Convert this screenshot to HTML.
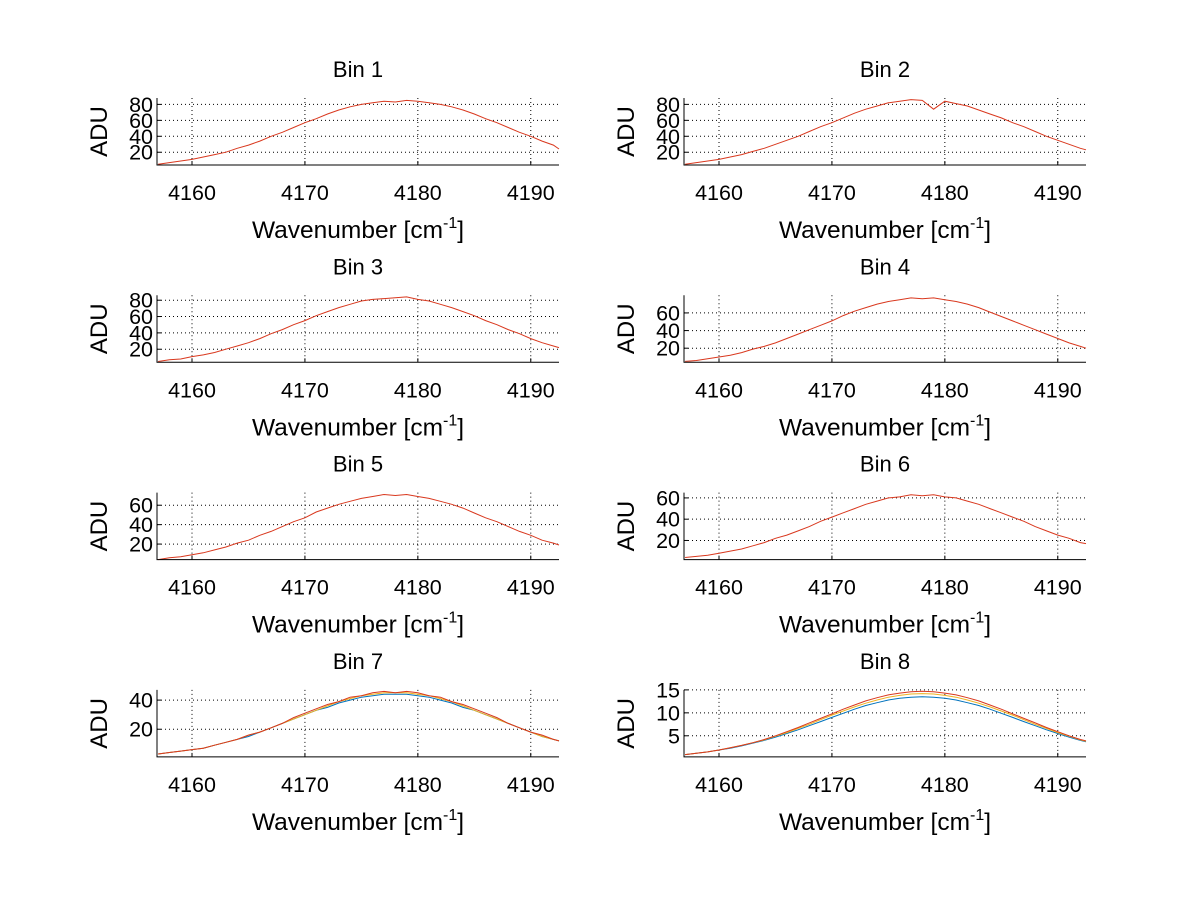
<!DOCTYPE html>
<html><head><meta charset="utf-8"><style>
html,body{margin:0;padding:0;background:#fff;}
svg text{font-family:"Liberation Sans",Arial,sans-serif;fill:#000;}
</style></head><body>
<svg id="fig" width="1200" height="901" viewBox="0 0 1200 901" xmlns="http://www.w3.org/2000/svg">
<rect width="1200" height="901" fill="#fff"/>
</svg>
<script>
const xs = [4157,4158,4159,4160,4161,4162,4163,4164,4165,4166,4167,4168,4169,4170,4171,4172,4173,4174,4175,4176,4177,4178,4179,4180,4181,4182,4183,4184,4185,4186,4187,4188,4189,4190,4191,4192,4192.5];
const xTicks = [4160,4170,4180,4190];
const binTitles = ["Bin 1","Bin 2","Bin 3","Bin 4","Bin 5","Bin 6","Bin 7","Bin 8"];
const yLims = [[4,88],[4,88],[4,86],[4,80],[4,73],[2,65],[1,47],[0.4,15]];
const yTicks = [[20,40,60,80],[20,40,60,80],[20,40,60,80],[20,40,60],[20,40,60],[20,40,60],[20,40],[5,10,15]];
const bin1 = [5,7,9,11,14,17,20,25,29,34,40,45,51,57,62,68,73,77,80,82,84,83,85,84,82,80,77,73,68,62,57,51,45,40,34,29,24];
const bin2 = [5,7,9,11,14,17,21,25,30,35,40,46,52,57,63,69,74,78,82,84,86,85,74,84,81,78,73,68,63,57,52,46,40,35,30,25,23];
const bin3 = [5,7,8,11,13,16,20,24,28,33,39,44,50,55,61,66,71,75,79,81,82,83,84,81,79,75,71,66,61,55,50,44,39,33,28,24,22];
const bin4 = [5,6,8,10,12,15,19,22,26,31,36,41,46,51,57,62,66,70,73,75,77,76,77,75,73,70,66,61,56,51,46,41,36,31,26,22,20];
const bin5 = [4,6,7,9,11,14,17,21,24,29,33,38,43,47,53,57,61,64,67,69,71,70,71,69,67,64,61,57,52,47,43,38,33,29,24,21,19];
const bin6 = [4,5,6,8,10,12,15,18,22,25,29,33,38,42,46,50,54,57,60,61,63,62,63,61,60,57,54,50,46,42,38,33,29,25,22,18,17];
const bin7Blue = [3,4,5,6,7,9,11,13,15,18,21,24,27,30,33,35,38,40,42,43,44,44,44,43,42,40,38,35,33,30,27,24,21,18,15,13,12];
const bin7Yellow = [3,4,5,6,7,9,11,13,16,18,21,24,27,30,33,36,39,41,43,44,45,45,45,44,43,41,39,36,33,30,27,24,21,18,15,13,12];
const bin7Red = [3,4,5,6,7,9,11,13,16,18,21,24,28,31,34,37,39,42,43,45,46,45,46,45,43,42,39,37,34,31,28,24,21,18,16,13,12];
const bin8Blue = [0.9,1.2,1.5,1.9,2.3,2.8,3.4,4.0,4.7,5.5,6.3,7.2,8.1,9.0,9.9,10.8,11.6,12.2,12.8,13.2,13.4,13.5,13.4,13.2,12.8,12.2,11.6,10.8,9.9,9.0,8.1,7.2,6.3,5.5,4.7,4.0,3.7];
const bin8Yellow = [0.9,1.2,1.5,1.9,2.4,2.9,3.5,4.1,4.9,5.7,6.6,7.5,8.5,9.5,10.4,11.3,12.1,12.8,13.4,13.8,14.1,14.2,14.1,13.8,13.4,12.8,12.1,11.3,10.4,9.5,8.5,7.5,6.6,5.7,4.9,4.1,3.8];
const bin8Red = [0.9,1.2,1.5,1.9,2.4,2.9,3.5,4.2,5.0,5.9,6.8,7.8,8.8,9.8,10.8,11.7,12.6,13.3,13.9,14.3,14.6,14.7,14.6,14.3,13.9,13.3,12.6,11.7,10.8,9.8,8.8,7.8,6.8,5.9,5.0,4.2,3.9];

const BLUE="#0072BD", YELLOW="#EDB120", RED="#D9381E";
const binSeries = [
  [[bin1,RED]],[[bin2,RED]],[[bin3,RED]],[[bin4,RED]],[[bin5,RED]],[[bin6,RED]],
  [[bin7Blue,BLUE],[bin7Yellow,YELLOW],[bin7Red,RED]],
  [[bin8Blue,BLUE],[bin8Yellow,YELLOW],[bin8Red,RED]]
];
const NS="http://www.w3.org/2000/svg";
const svg=document.getElementById('fig');
function mk(tag,attrs,parent){const e=document.createElementNS(NS,tag);for(const k in attrs)e.setAttribute(k,attrs[k]);parent.appendChild(e);return e;}
const XMIN=4156.9, XMAX=4192.5;
for(let i=0;i<8;i++){
  const col=i%2,row=Math.floor(i/2);
  const L=157+col*527, R=559+col*527, T=98+row*197.3, B=165+row*197.3;
  const g=mk('g',{},svg);
  
  
  const [y0,y1]=yLims[i];
  const sx=v=>L+(v-XMIN)/(XMAX-XMIN)*(R-L);
  const sy=v=>B-(v-y0)/(y1-y0)*(B-T);
  xTicks.forEach(t=>{
    const ln=mk('line',{x1:sx(t),x2:sx(t),y1:T,y2:B,stroke:'#000','stroke-width':1,'stroke-dasharray':'1 3'},g);
    
    
    mk('line',{x1:sx(t),x2:sx(t),y1:B,y2:B-4,stroke:'#000'},g);
    const tx=mk('text',{x:sx(t),y:B+35,'font-size':21.5,'text-anchor':'middle'},g);
    tx.textContent=t;
    
    
  });
  yTicks[i].forEach(t=>{
    const ln=mk('line',{x1:L,x2:R,y1:sy(t),y2:sy(t),stroke:'#000','stroke-width':1,'stroke-dasharray':'1 3'},g);
    
    
    mk('line',{x1:L,x2:L+4,y1:sy(t),y2:sy(t),stroke:'#000'},g);
    const tx=mk('text',{x:L-4,y:sy(t)+7.5,'font-size':21.5,'text-anchor':'end'},g);
    tx.textContent=t;
    
    
  });
  binSeries[i].forEach(([arr,c])=>{
    const p=mk('polyline',{points:arr.map((v,k)=>sx(xs[k]).toFixed(1)+','+sy(v).toFixed(1)).join(' '),fill:'none',stroke:c,'stroke-width':1},g);
    
    
  });
  const ax=mk('path',{d:`M${L},${T}V${B}H${R}`,fill:'none',stroke:'#000','stroke-width':1},g);
  
  
  const ti=mk('text',{x:(L+R)/2,y:T-21,'font-size':22,'text-anchor':'middle'},g);
  ti.textContent=binTitles[i];
  
  
  const yl=mk('text',{x:0,y:0,'font-size':24,'text-anchor':'middle',transform:`translate(${L-50},${(T+B)/2}) rotate(-90)`},g);
  yl.textContent='ADU';
  
  
  const xl=mk('text',{x:(L+R)/2,y:B+73,'font-size':24.5,'text-anchor':'middle'},g);
  xl.innerHTML='Wavenumber [cm<tspan dy="-10" font-size="16">-1</tspan><tspan dy="10">]</tspan>';
  
  
}
</script>
</body></html>
